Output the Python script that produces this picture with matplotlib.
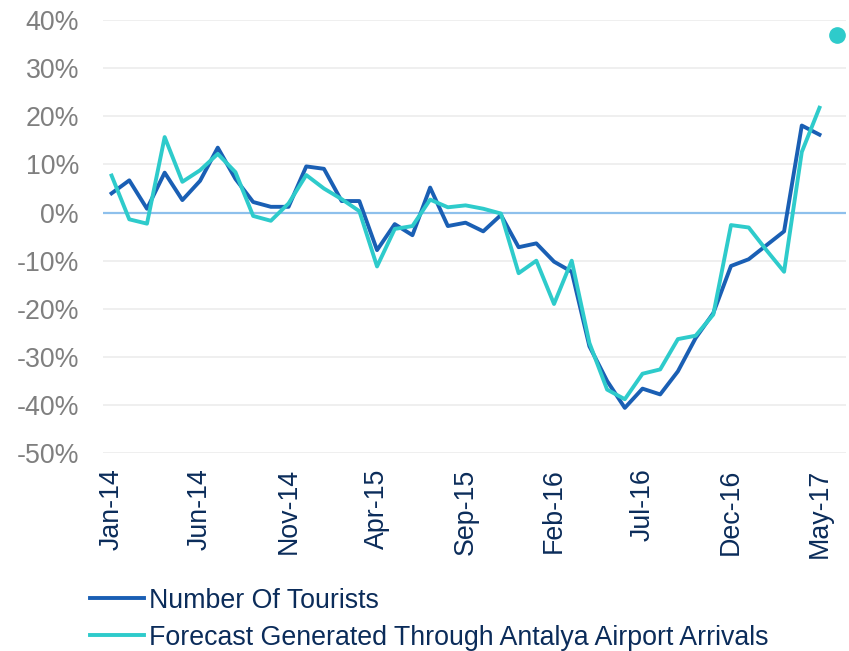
import matplotlib
matplotlib.use("Agg")
import matplotlib.pyplot as plt
import pandas as pd

# monthly categories Jan-14 .. Jun-17
months = pd.date_range("2014-01-01", periods=42, freq="MS").strftime("%b-%y").tolist()

# YoY change, %
tourists = [4.0, 6.7, 0.8, 8.3, 2.6, 6.6, 13.5, 7.0, 2.2, 1.2, 1.2, 9.6,
            9.1, 2.4, 2.4, -7.8, -2.4, -4.7, 5.2, -2.8, -2.1, -3.9, -0.5, -7.2,
            -6.4, -10.2, -12.3, -27.8, -35.0, -40.6, -36.6, -37.8, -33.0, -26.1, -20.9,
            -11.1, -9.7, -6.8, -3.9, 18.1, 16.2]
forecast = [7.7, -1.4, -2.3, 15.7, 6.4, 8.8, 12.2, 8.4, -0.7, -1.7, 1.9, 7.8,
            5.0, 2.8, 0.3, -11.2, -3.4, -2.8, 2.7, 1.1, 1.5, 0.8, -0.2,
            -12.6, -10.0, -19.0, -10.0, -27.1, -36.8, -38.8, -33.5, -32.6, -26.3, -25.6, -21.2,
            -2.6, -3.1, -7.8, -12.3, 12.6, 21.8]
forecast_next = 36.9  # Jun-17 point

yticks = list(range(-50, 41, 10))

plt.rcParams["font.family"] = ["Liberation Sans", "DejaVu Sans"]

fig = plt.figure(figsize=(8.49, 6.51), dpi=100)
ax = fig.add_axes([0.121, 0.304, 0.8755, 0.665])

x = list(range(len(months)))
ax.plot(x[:len(tourists)], tourists, color="#1a5fb4", lw=2.8, label="Number Of Tourists", zorder=3)
ax.plot(x[:len(forecast)], forecast, color="#2ecbcb", lw=2.8,
        label="Forecast Generated Through Antalya Airport Arrivals", zorder=4)
ax.plot([x[len(forecast)]], [forecast_next], "o", color="#2ecbcb", ms=11, zorder=4)

ax.axhline(0, color="#8ec0ec", lw=1.6, zorder=2)
ax.set_ylim(-50, 40)
ax.set_xlim(-0.5, len(months) - 0.5)
ax.set_yticks(yticks)
ax.set_yticklabels([f"{v}%" for v in yticks])
ax.yaxis.grid(True, color="#ececec", lw=1.2)
ax.set_axisbelow(True)
ax.set_xticks(x[::5])
ax.set_xticklabels(months[::5], rotation=90)

for s in ax.spines.values():
    s.set_visible(False)
ax.tick_params(axis="both", length=0)
ax.tick_params(axis="y", labelsize=19.3, labelcolor="#7f7f7f", pad=17)
ax.tick_params(axis="x", labelsize=19.3, labelcolor="#0b2c5a", pad=11)

fig.legend(loc="upper left", bbox_to_anchor=(0.106, 0.097), frameon=False,
           fontsize=19.3, handlelength=2.0, handletextpad=0.2, labelspacing=0.4,
           borderpad=0, borderaxespad=0, labelcolor="#0b2c5a")

fig.savefig("out.png", dpi=100)
